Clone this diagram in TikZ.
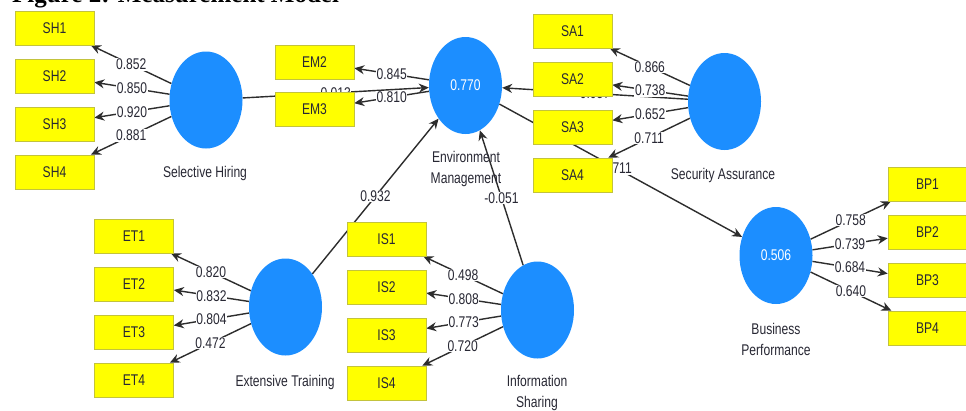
\documentclass[tikz,border=0pt]{standalone}
\usepackage{fontspec}
\setmainfont{Liberation Sans}[FakeStretch=0.78]
\newfontfamily\titlefont{Liberation Serif}
\usetikzlibrary{shapes.geometric,arrows.meta}
\definecolor{lvblue}{RGB}{28,142,255}
\definecolor{indyel}{RGB}{255,255,0}
\definecolor{indbrd}{RGB}{195,195,60}
\definecolor{lnk}{RGB}{45,45,45}
\definecolor{txt}{RGB}{40,40,52}
\pgfdeclarelayer{bg}
\pgfdeclarelayer{paper}
\pgfsetlayers{paper,bg,main}
\begin{document}
\begin{tikzpicture}[x=1pt,y=-1pt,
  ind/.style={draw=indbrd, fill=indyel, line width=0.6pt, minimum width=79pt, minimum height=34pt, inner sep=0pt, text=txt, font=\fontsize{15.5}{16}\selectfont},
  lv/.style={ellipse, fill=lvblue, minimum width=73pt, minimum height=97pt, inner sep=0pt, text=white, font=\fontsize{15.5}{16}\selectfont},
  lvname/.style={font=\fontsize{15.5}{21}\selectfont, align=center, text=txt, inner sep=0pt},
  lnkline/.style={draw=lnk, line width=1.4pt, -{Stealth[length=10pt,width=9pt]}},
  wt/.style={fill=white, inner sep=0.6pt, font=\fontsize{15.5}{16}\selectfont, text=txt}]
\useasboundingbox (0,0) rectangle (966,410);
\begin{pgfonlayer}{paper}
\fill[white] (0,0) rectangle (966,410);
\end{pgfonlayer}
% title (cut off at top)
\node[anchor=base west, inner sep=0pt, font=\titlefont\bfseries\fontsize{25}{25}\selectfont] (title) at (12,2.5) {Figure 2: Measurement Model};
% latent variables
\node[lv] (SH) at (206,100) {};
\node[lv] (EM) at (465.5,85.5) {0.770};
\node[lv] (SA) at (724.5,101.5) {};
\node[lv] (BP) at (776,255.5) {0.506};
\node[lv] (ET) at (285.5,307) {};
\node[lv] (IS) at (537.5,310) {};
% latent names
\node[lvname] (SHn) at (205,173) {Selective Hiring};
\node[lvname] (EMn) at (466,168.5) {Environment\\Management};
\node[lvname] (SAn) at (723,175) {Security Assurance};
\node[lvname] (BPn) at (776,339.5) {Business\\Performance};
\node[lvname] (ETn) at (285,382) {Extensive Training};
\node[lvname] (ISn) at (537,392.5) {Information\\Sharing};
% indicators
\node[ind] (SH1) at (54.5,28) {SH1};
\node[ind] (SH2) at (54.5,76) {SH2};
\node[ind] (SH3) at (54.5,124) {SH3};
\node[ind] (SH4) at (54.5,172) {SH4};
\node[ind] (EM2) at (314.5,62) {EM2};
\node[ind] (EM3) at (314.5,109.5) {EM3};
\node[ind] (SA1) at (572.5,31) {SA1};
\node[ind] (SA2) at (572.5,79) {SA2};
\node[ind] (SA3) at (572.5,127) {SA3};
\node[ind] (SA4) at (572.5,175) {SA4};
\node[ind] (BP1) at (927.5,184) {BP1};
\node[ind] (BP2) at (927.5,232) {BP2};
\node[ind] (BP3) at (927.5,280) {BP3};
\node[ind] (BP4) at (927.5,328) {BP4};
\node[ind] (ET1) at (134,236) {ET1};
\node[ind] (ET2) at (134,284) {ET2};
\node[ind] (ET3) at (134,332) {ET3};
\node[ind] (ET4) at (134,380) {ET4};
\node[ind] (IS1) at (386.5,239) {IS1};
\node[ind] (IS2) at (386.5,287) {IS2};
\node[ind] (IS3) at (386.5,335) {IS3};
\node[ind] (IS4) at (386.5,383) {IS4};
\begin{pgfonlayer}{bg}
% structural paths
\draw[lnkline] (SH) -- node[wt]{0.013} (EM);
\draw[lnkline] (SA) -- node[wt]{0.057} (EM);
\draw[lnkline] (ET) -- node[wt]{0.932} (EM);
\draw[lnkline] (IS) -- node[wt]{-0.051} (EM);
\draw[lnkline] (EM) -- node[wt, pos=0.485]{0.711} (BP);
% loadings
\draw[lnkline] (SH) -- node[wt]{0.852} (SH1);
\draw[lnkline] (SH) -- node[wt]{0.850} (SH2);
\draw[lnkline] (SH) -- node[wt]{0.920} (SH3);
\draw[lnkline] (SH) -- node[wt]{0.881} (SH4);
\draw[lnkline] (EM) -- node[wt]{0.845} (EM2);
\draw[lnkline] (EM) -- node[wt]{0.810} (EM3);
\draw[lnkline] (SA) -- node[wt]{0.866} (SA1);
\draw[lnkline] (SA) -- node[wt]{0.738} (SA2);
\draw[lnkline] (SA) -- node[wt]{0.652} (SA3);
\draw[lnkline] (SA) -- node[wt]{0.711} (SA4);
\draw[lnkline] (BP) -- node[wt]{0.758} (BP1);
\draw[lnkline] (BP) -- node[wt]{0.739} (BP2);
\draw[lnkline] (BP) -- node[wt]{0.684} (BP3);
\draw[lnkline] (BP) -- node[wt]{0.640} (BP4);
\draw[lnkline] (ET) -- node[wt]{0.820} (ET1);
\draw[lnkline] (ET) -- node[wt]{0.832} (ET2);
\draw[lnkline] (ET) -- node[wt]{0.804} (ET3);
\draw[lnkline] (ET) -- node[wt]{0.472} (ET4);
\draw[lnkline] (IS) -- node[wt]{0.498} (IS1);
\draw[lnkline] (IS) -- node[wt]{0.808} (IS2);
\draw[lnkline] (IS) -- node[wt]{0.773} (IS3);
\draw[lnkline] (IS) -- node[wt]{0.720} (IS4);
\end{pgfonlayer}
\end{tikzpicture}
\end{document}
